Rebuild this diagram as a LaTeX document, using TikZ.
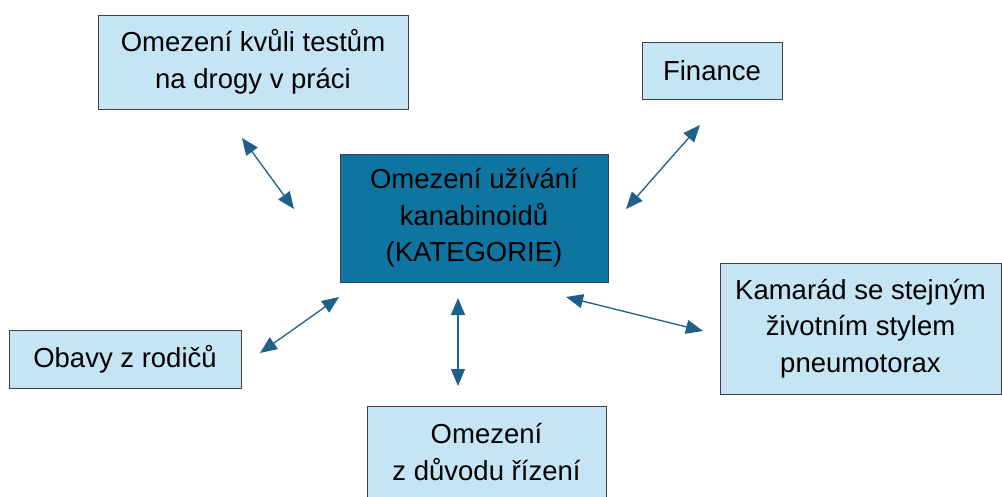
\documentclass[tikz,border=0pt]{standalone}
\usepackage{fontspec}
\setmainfont{Liberation Sans}
\usetikzlibrary{arrows.meta}
\definecolor{boxfill}{HTML}{C5E5F5}
\definecolor{centerfill}{HTML}{0E74A0}
\definecolor{arrowcol}{HTML}{1F6088}
\definecolor{boxline}{HTML}{404040}
\tikzset{
  lbox/.style={draw=boxline, line width=1pt, fill=boxfill, align=center, inner sep=0pt,
    font=\fontsize{27.5}{36.5}\selectfont, text=black},
  cbox/.style={lbox, fill=centerfill},
  conn/.style={draw=arrowcol, line width=1.3pt, {Triangle[length=17pt,width=14pt]}-{Triangle[length=17pt,width=14pt]}}
}
\begin{document}
\begin{tikzpicture}[x=1pt,y=-1pt]
\useasboundingbox (0,0) rectangle (1002,496);
\clip (0,0) rectangle (1002,496);
\node[lbox, minimum width=310pt, minimum height=94pt] (drogy) at (253,62) {Omezení kvůli testům\\na drogy v práci};
\node[lbox, minimum width=140pt, minimum height=57pt] (fin) at (712,70.5) {Finance};
\node[cbox, minimum width=268pt, minimum height=128pt] (cat) at (474,218) {Omezení užívání\\kanabinoidů\\(KATEGORIE)};
\node[lbox, minimum width=281pt, minimum height=131pt] (kam) at (860.5,328.5) {Kamarád se stejným\\životním stylem\\pneumotorax};
\node[lbox, minimum width=232pt, minimum height=58pt] (rod) at (125,359) {Obavy z rodičů};
\node[lbox, minimum width=239pt, minimum height=92pt] (riz) at (486.5,452) {Omezení\\z důvodu řízení};
\coordinate (a1) at (242,138); \coordinate (a2) at (294,209);
\coordinate (b1) at (700,125); \coordinate (b2) at (626,209);
\coordinate (c1) at (566,297); \coordinate (c2) at (703,331);
\coordinate (d1) at (458,298); \coordinate (d2) at (458,386);
\coordinate (e1) at (339,297); \coordinate (e2) at (260,353);
\draw[conn] (a1) -- (a2);
\draw[conn] (b1) -- (b2);
\draw[conn] (c1) -- (c2);
\draw[conn] (d1) -- (d2);
\draw[conn] (e1) -- (e2);
\end{tikzpicture}
\end{document}
